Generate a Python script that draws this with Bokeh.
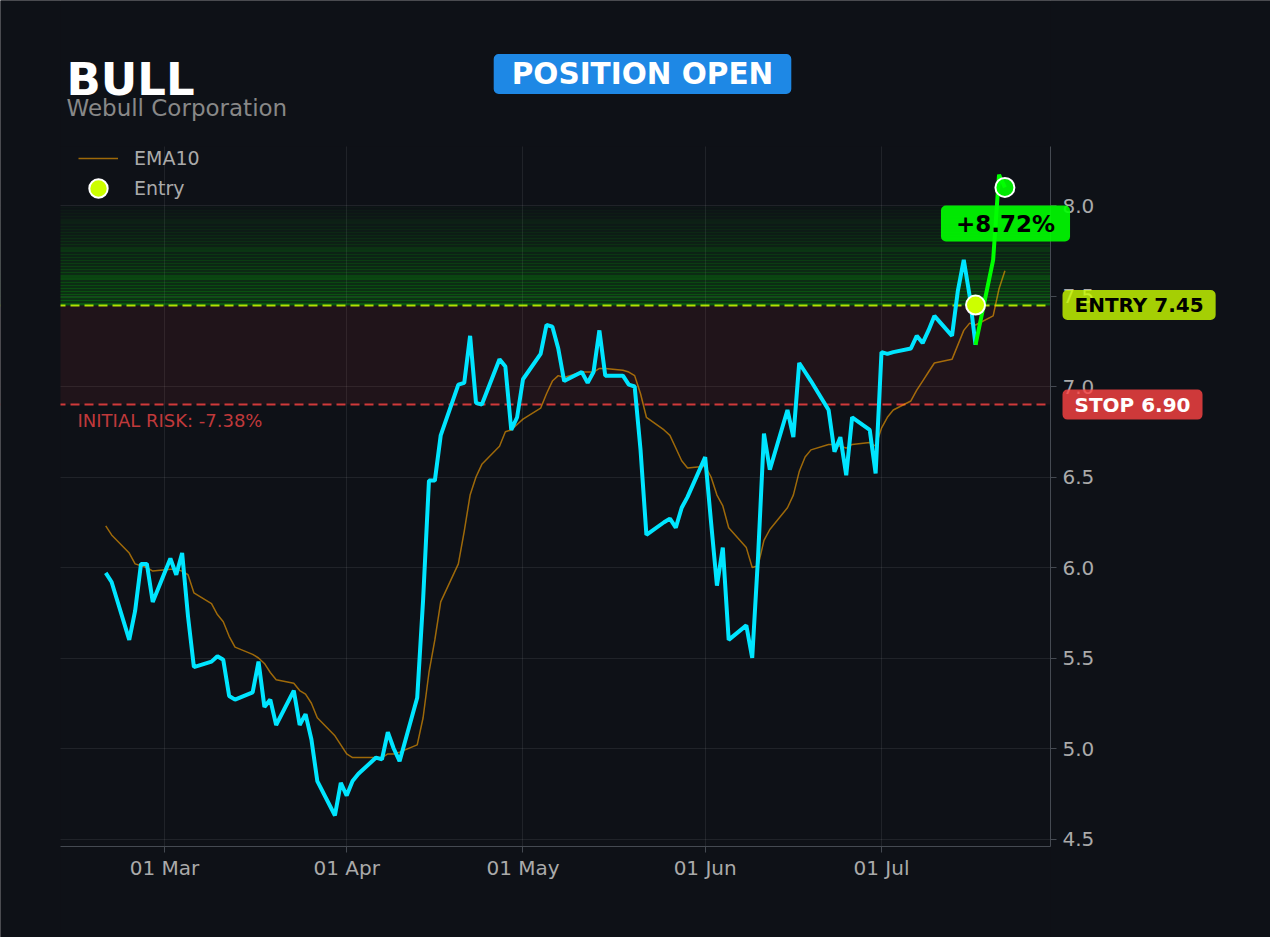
import pandas as pd
from bokeh.plotting import figure
from bokeh.models import (ColumnDataSource, Range1d, DatetimeTickFormatter, MonthsTicker,
                          FixedTicker, NumeralTickFormatter, Label, Legend, LegendItem)
from bokeh.embed import file_html
from bokeh.resources import INLINE

# ---------------- data ----------------
symbol = "BULL"
company = "Webull Corporation"
status_text = "POSITION OPEN"
entry_price = 7.45
stop_price = 6.90
target_price = 8.00
entry_date = "2026-07-17"
y_ticks = [4.5, 5.0, 5.5, 6.0, 6.5, 7.0, 7.5, 8.0]

dates = pd.bdate_range("2026-02-19", "2026-07-22")

close = [
    5.97, 5.92, 5.60, 5.76, 6.02, 6.02, 5.81,
    6.05, 5.96, 6.08, 5.73, 5.45, 5.48, 5.51, 5.49, 5.29, 5.27,
    5.31, 5.48, 5.23, 5.27, 5.13, 5.32, 5.13, 5.19, 5.05, 4.82, 4.63, 4.81,
    4.74, 4.82, 4.86, 4.95, 4.94, 5.09, 5.00, 4.93, 5.28, 5.82, 6.48, 6.48, 6.73,
    7.01, 7.02, 7.28, 6.91, 6.90, 7.15, 7.11, 6.76, 6.83,
    7.04, 7.18, 7.34, 7.33, 7.21, 7.03, 7.08, 7.02, 7.08, 7.31, 7.06,
    7.06, 7.01, 7.00, 6.65, 6.18, 6.25, 6.27, 6.22, 6.33, 6.39,
    6.61, 6.25, 5.90, 6.11, 5.60, 5.68, 5.50, 6.06, 6.74, 6.54,
    6.87, 6.72, 7.13, 7.08, 7.03, 6.87, 6.64, 6.72, 6.51, 6.83, 6.76, 6.52,
    7.19, 7.18, 7.19, 7.21, 7.28, 7.24, 7.31, 7.39,
    7.28, 7.53, 7.70, 7.50, 7.23, 7.70, 8.17, 8.10,
]

ema10 = [
    6.23, 6.18, 6.08, 6.02, 6.01, 6.00, 5.98,
    5.99, 5.99, 5.98, 5.96, 5.86, 5.80, 5.74, 5.70, 5.62, 5.56,
    5.52, 5.50, 5.47, 5.42, 5.38, 5.36, 5.32, 5.30, 5.25, 5.17, 5.07, 5.02,
    4.97, 4.95, 4.95, 4.95, 4.95, 4.97, 4.97, 4.98, 5.02, 5.17, 5.42, 5.60, 5.81,
    6.02, 6.20, 6.40, 6.50, 6.57, 6.67, 6.75, 6.76, 6.79,
    6.82, 6.88, 6.96, 7.03, 7.06, 7.05, 7.08, 7.08, 7.08, 7.10, 7.10,
    7.09, 7.08, 7.06, 6.96, 6.83, 6.76, 6.73, 6.66, 6.59, 6.55,
    6.56, 6.50, 6.40, 6.34, 6.22, 6.11, 6.00, 6.01, 6.15, 6.21,
    6.33, 6.40, 6.53, 6.61, 6.65, 6.68, 6.68, 6.67, 6.66, 6.68, 6.69, 6.67,
    6.77, 6.83, 6.87, 6.92, 6.98, 7.03, 7.08, 7.13,
    7.15, 7.23, 7.31, 7.35, 7.34, 7.39, 7.54, 7.64,
]

current_price = close[-1]
pnl_pct = (current_price / entry_price - 1) * 100
risk_pct = (stop_price / entry_price - 1) * 100

# ---------------- layout helpers (page pixels -> data) ----------------
BG = "#0e1117"
W, H = 1270, 937
PLOT_L, PLOT_R, PLOT_T, PLOT_B = 60, 1050, 146, 846      # visible chart area
X0 = pd.Timestamp("2026-03-01")
PX_PER_DAY = 5.877
BIG_X = 1e10


def px_x(px):
    return (X0 + pd.Timedelta(days=(px - 164) / PX_PER_DAY)).value / 1e6


def px_y(py):
    return 8.0 - (py - 205) / 181.0


FONT = "DejaVu Sans"

df = pd.DataFrame({"date": dates, "close": close, "ema": ema10})
src_all = ColumnDataSource(df[df["date"] <= pd.Timestamp(entry_date)])
src_after = ColumnDataSource(df[df["date"] >= pd.Timestamp(entry_date)])
src_ema = ColumnDataSource(df)

# the frame covers the whole canvas; axes are pinned to the chart-area edges
p = figure(width=W, height=H, x_axis_type="datetime", y_axis_location="right",
           x_range=Range1d(px_x(0), px_x(W)), y_range=Range1d(px_y(H), px_y(0)),
           output_backend="svg", toolbar_location=None,
           min_border_left=0, min_border_right=0, min_border_top=0, min_border_bottom=0,
           background_fill_color=BG, border_fill_color=BG)
p.outline_line_color = None

# zones
p.hstrip(y0=[stop_price], y1=[entry_price], fill_color="#ff4444", fill_alpha=0.08, line_color=None)
n = 32
step = (target_price - entry_price) / n
g0 = [entry_price + i * step for i in range(n)]
g1 = [v + step * 0.7 for v in g0]
ga = [0.28 * (1 - i / n) + 0.02 for i in range(n)]
p.hstrip(y0=g0, y1=g1, fill_color="#00ff00", fill_alpha=ga, line_color=None)

p.hspan(y=[entry_price], line_color="#ccff00", line_alpha=0.85, line_width=2, line_dash="9 5")
p.hspan(y=[stop_price], line_color="#ff4444", line_alpha=0.8, line_width=2, line_dash="9 5")

ema_r = p.line("date", "ema", source=src_ema, line_color="#ffa500", line_alpha=0.6, line_width=1.5)
p.line("date", "close", source=src_all, line_color="#00e5ff", line_width=4)
p.line("date", "close", source=src_after, line_color="#00ff00", line_width=4)

entry_r = p.scatter(x=[pd.Timestamp(entry_date)], y=[entry_price], size=19, fill_color="#ccff00",
                    line_color="white", line_width=2)
p.scatter(x=[dates[-1]], y=[current_price], size=19, fill_color="#00ff00", fill_alpha=0.9,
          line_color="white", line_width=2)

# masks around the chart area (hide grid / zones beyond it)
yb, yt = px_y(H) - 10, px_y(0) + 10
p.quad(left=[px_x(0) - BIG_X, px_x(PLOT_R), px_x(PLOT_L), px_x(PLOT_L)],
       right=[px_x(PLOT_L), px_x(W) + BIG_X, px_x(PLOT_R), px_x(PLOT_R)],
       bottom=[yb, yb, px_y(PLOT_T), yb],
       top=[yt, yt, yt, px_y(PLOT_B)],
       fill_color=BG, line_color=None)

# axes
for ax in (p.xaxis[0], p.yaxis[0]):
    ax.axis_line_color = "#454a52"
    ax.major_tick_line_color = "#454a52"
    ax.minor_tick_line_color = None
    ax.major_tick_out = 6
    ax.major_tick_in = 0
    ax.major_label_text_color = "#aaaaaa"
    ax.major_label_text_font_size = "20px"
    ax.major_label_text_font = FONT
p.xaxis[0].ticker = MonthsTicker(months=list(range(1, 13)))
p.xaxis[0].formatter = DatetimeTickFormatter(months="%d %b", days="%d %b")
p.xaxis[0].major_label_standoff = 3
p.xaxis[0].bounds = (px_x(PLOT_L), px_x(PLOT_R))
p.xaxis[0].fixed_location = px_y(PLOT_B)
p.yaxis[0].ticker = FixedTicker(ticks=y_ticks)
p.yaxis[0].formatter = NumeralTickFormatter(format="0.0")
p.yaxis[0].major_label_standoff = 6
p.yaxis[0].bounds = (px_y(PLOT_B), px_y(PLOT_T))
p.yaxis[0].fixed_location = px_x(PLOT_R)
for g in (p.xgrid[0], p.ygrid[0]):
    g.grid_line_color = "#ffffff"
    g.grid_line_alpha = 0.08

legend_style = dict(background_fill_alpha=0, border_line_color=None, label_text_color="#aaaaaa",
                    label_text_font_size="19px", label_text_font=FONT, padding=0, margin=0,
                    label_height=24, spacing=0)
leg_ema = Legend(items=[LegendItem(label="EMA10", renderers=[ema_r])], location=(78, H - 170),
                 glyph_width=40, glyph_height=24, label_standoff=16, **legend_style)
leg_entry = Legend(items=[LegendItem(label="Entry", renderers=[entry_r])], location=(75, H - 212),
                   glyph_width=46, glyph_height=48, label_standoff=13, **legend_style)
p.add_layout(leg_ema)
p.add_layout(leg_entry)

# texts
p.add_layout(Label(x=px_x(66), y=px_y(79), text=symbol, text_font=FONT, text_font_size="45px",
                   text_font_style="bold", text_color="white", text_baseline="alphabetic"))
p.add_layout(Label(x=px_x(66), y=px_y(107), text=company, text_font=FONT, text_font_size="23px",
                   text_color="#888888", text_baseline="alphabetic"))
p.add_layout(Label(x=px_x(642), y=px_y(73.5), text=status_text, text_font=FONT, text_font_size="29.5px",
                   text_font_style="bold", text_color="white", text_align="center", text_baseline="middle",
                   background_fill_color="#1e88e5", padding=(18, 3), border_radius=5))
p.add_layout(Label(x=px_x(1062), y=entry_price, text=f"ENTRY {entry_price:.2f}", text_font=FONT,
                   text_font_size="20px", text_font_style="bold", text_color="black",
                   text_baseline="middle", background_fill_color="#ccff00", background_fill_alpha=0.8,
                   padding=(12, 3), border_radius=5))
p.add_layout(Label(x=px_x(1062), y=stop_price, text=f"STOP {stop_price:.2f}", text_font=FONT,
                   text_font_size="20px", text_font_style="bold", text_color="white",
                   text_baseline="middle", background_fill_color="#ff4444", background_fill_alpha=0.8,
                   padding=(12, 3), border_radius=5))
p.add_layout(Label(x=px_x(1005), y=px_y(223), text=f"{pnl_pct:+.2f}%", text_font=FONT,
                   text_font_size="23px", text_font_style="bold", text_color="black",
                   text_align="center", text_baseline="middle", background_fill_color="#00ff00",
                   background_fill_alpha=0.9, padding=(15, 5), border_radius=5))
p.add_layout(Label(x=px_x(77), y=px_y(420), text=f"INITIAL RISK: {risk_pct:.2f}%", text_font=FONT,
                   text_font_size="18px", text_color="#c0393b", text_baseline="alphabetic"))

html = file_html(p, INLINE)
html = html.replace("<body>", '<body style="background-color:#0e1117;">', 1)
open("out.html", "w").write(html)
